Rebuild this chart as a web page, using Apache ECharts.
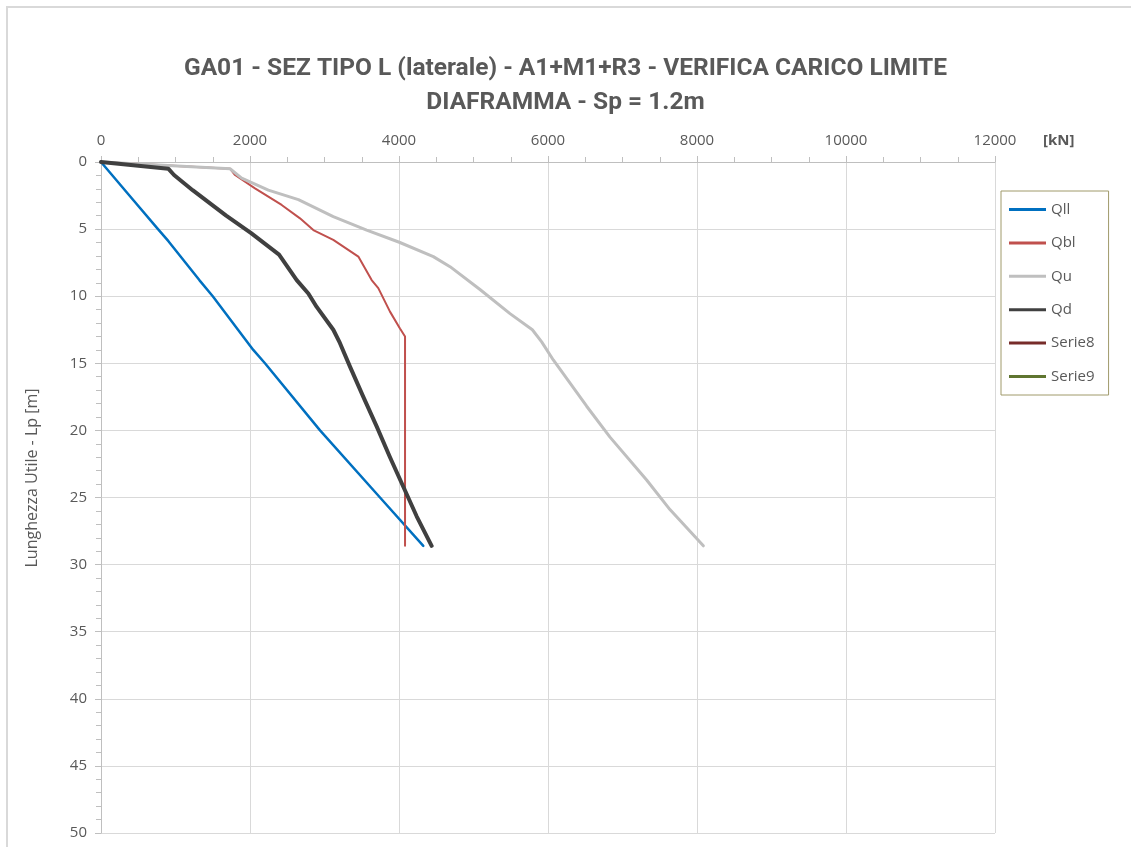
<!DOCTYPE html>
<html>
<head>
<meta charset="utf-8">
<script src="https://cdn.jsdelivr.net/npm/echarts@6/dist/echarts.min.js"></script>
<style>
html,body{margin:0;padding:0;background:#fff;}
#chart{width:1131px;height:847px;}
</style>
</head>
<body>
<div id="chart"></div>
<script>
// ---- data ----
const titleLine1 = "GA01 - SEZ TIPO L (laterale) - A1+M1+R3 - VERIFICA CARICO LIMITE";
const titleLine2 = "DIAFRAMMA - Sp = 1.2m";
const xAxisUnit = "[kN]";
const yAxisTitle = "Lunghezza Utile - Lp [m]";

const qllDepth = [0, 2.4, 5.0, 5.9, 8.8, 10, 14, 15, 20, 25, 28.6];
const qllValue = [0, 367, 765, 905, 1320, 1500, 2044, 2201, 2940, 3745, 4326];

const qblDepth = [0, 0.5, 0.97, 1.96, 3.2, 4.2, 5.07, 5.8, 7.05, 8.8, 9.4, 11.15, 12.4, 13.0, 28.6];
const qblValue = [0, 1732, 1799, 2067, 2425, 2671, 2850, 3118, 3454, 3633, 3722, 3879, 4013, 4081, 4081];

const quDepth = [0, 0.5, 1.2, 2.1, 2.8, 4.07, 5.07, 5.98, 7.05, 7.8, 9.5, 11.3, 12.5, 13.4, 14.75, 18.2, 20.5, 23.7, 25.9, 28.6];
const quValue = [0, 1732, 1888, 2246, 2650, 3118, 3566, 4004, 4461, 4685, 5087, 5490, 5790, 5915, 6071, 6519, 6832, 7324, 7637, 8085];

const qdDepth = [0, 0.5, 0.97, 2.1, 4.0, 5.3, 6.9, 8.8, 9.8, 10.8, 12.5, 13.5, 15.25, 17.5, 19.7, 22, 24.2, 26.4, 28.6];
const qdValue = [0, 903, 980, 1230, 1680, 2015, 2390, 2627, 2783, 2895, 3118, 3208, 3342, 3521, 3700, 3879, 4058, 4237, 4438];

const serie8Depth = [];
const serie8Value = [];
const serie9Depth = [];
const serie9Value = [];

const seriesNames = ["Qll", "Qbl", "Qu", "Qd", "Serie8", "Serie9"];
const xTicks = {min: 0, max: 12000, interval: 2000};
const yTicks = {min: 0, max: 50, interval: 5};

function pairs(v, d) { return v.map((x, i) => [x, d[i]]); }

const textColor = "#595959";
const chart = echarts.init(document.getElementById('chart'), null, {renderer: 'canvas'});

function lineSeries(name, v, d, color, width) {
  return {
    name: name, type: 'line', data: pairs(v, d),
    symbol: 'none', showSymbol: false, smooth: false,
    lineStyle: {color: color, width: width, cap: 'round', join: 'round'},
    itemStyle: {color: color},
    animation: false
  };
}

chart.setOption({
  backgroundColor: '#ffffff',
  animation: false,
  title: {
    text: titleLine1 + "\n" + titleLine2,
    left: 'center', top: 47,
    textStyle: {fontFamily: 'Roboto', fontWeight: 'bold', fontSize: 24.5, color: textColor, lineHeight: 34}
  },
  legend: {
    orient: 'vertical', left: 1001, top: 191,
    padding: [11, 14, 11, 8],
    borderColor: '#a09a6b', borderWidth: 1,
    icon: 'rect',
    itemWidth: 37, itemHeight: 3, itemGap: 18.4,
    textStyle: {fontFamily: 'Open Sans', fontSize: 15, color: textColor, padding: [0, 0, 0, 0]},
    data: seriesNames
  },
  grid: {left: 101, top: 162, right: 136, bottom: 14, containLabel: false},
  xAxis: {
    type: 'value', position: 'top',
    min: xTicks.min, max: xTicks.max, interval: xTicks.interval,
    axisLine: {show: true, lineStyle: {color: '#bfbfbf', width: 1}},
    axisTick: {show: true, length: 6, lineStyle: {color: '#bfbfbf'}},
    minorTick: {show: true, splitNumber: 4, length: 5, lineStyle: {color: '#bfbfbf'}},
    splitLine: {show: true, lineStyle: {color: '#d9d9d9', width: 1}},
    axisLabel: {color: textColor, fontFamily: 'Open Sans', fontSize: 15, margin: 14, formatter: v => String(v)}
  },
  yAxis: {
    type: 'value', inverse: true,
    min: yTicks.min, max: yTicks.max, interval: yTicks.interval,
    axisLine: {show: true, lineStyle: {color: '#bfbfbf', width: 1}},
    axisTick: {show: true, length: 6, lineStyle: {color: '#bfbfbf'}},
    minorTick: {show: true, splitNumber: 5, length: 5, lineStyle: {color: '#bfbfbf'}},
    splitLine: {show: true, lineStyle: {color: '#d9d9d9', width: 1}},
    axisLabel: {color: textColor, fontFamily: 'Open Sans', fontSize: 15, margin: 14, formatter: v => String(v)}
  },
  graphic: [
    {type: 'rect', shape: {x: 7, y: 7, width: 1140, height: 860}, style: {fill: 'none', stroke: '#d9d9d9', lineWidth: 2}, silent: true},
    {type: 'text', left: 1043, top: 133, style: {text: xAxisUnit, font: 'bold 15px "Open Sans"', fill: textColor}},
    {type: 'text', x: 32, y: 478, rotation: Math.PI / 2,
     style: {text: yAxisTitle, font: '16px "Open Sans"', fill: textColor, align: 'center', verticalAlign: 'middle'}}
  ],
  series: [
    lineSeries("Qll", qllValue, qllDepth, '#0070c0', 2.5),
    lineSeries("Qbl", qblValue, qblDepth, '#c0504d', 2),
    lineSeries("Qu", quValue, quDepth, '#bfbfbf', 3),
    lineSeries("Qd", qdValue, qdDepth, '#404040', 4),
    lineSeries("Serie8", serie8Value, serie8Depth, '#772c2a', 3),
    lineSeries("Serie9", serie9Value, serie9Depth, '#5f7530', 3)
  ]
});
</script>
</body>
</html>
